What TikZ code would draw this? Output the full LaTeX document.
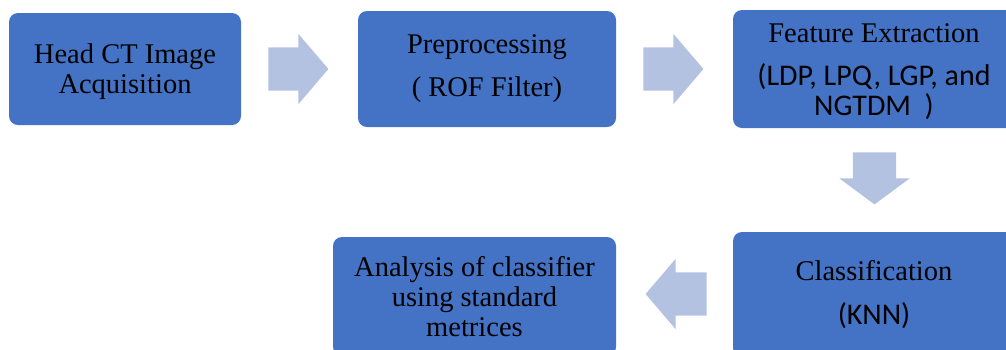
\documentclass[tikz,border=0pt]{standalone}
\usepackage{fontspec}
\setmainfont{Liberation Serif}
\newfontfamily\calibri{Carlito}
\usepackage{tikz}
\usetikzlibrary{shapes.arrows,positioning,calc}
\definecolor{BoxBlue}{HTML}{4472C4}
\definecolor{ArrowBlue}{HTML}{B4C2E2}

\begin{document}
\begin{tikzpicture}[
  x=1pt,y=-1pt,
  stage/.style={rounded corners=9pt,fill=BoxBlue,align=center,text=black,inner sep=0pt,font=\fontsize{28.5}{30}\selectfont},
  flow/.style={single arrow,fill=ArrowBlue,inner xsep=0pt,inner ysep=21.5pt,single arrow head extend=13.5pt,minimum height=60pt,single arrow tip angle=99,anchor=tail}
]
\useasboundingbox (0,0) rectangle (1006,349);
\clip (0,0) rectangle (1006,349);
\node[stage,minimum width=232pt,minimum height=112pt] (acq) at (125,69) {\rule{0pt}{25.5pt}Head CT Image\\Acquisition};
\node[stage,minimum width=258pt,minimum height=116pt] (pre) at (487,69) {Preprocessing\\[13pt]( ROF Filter)};
\node[stage,minimum width=282pt,minimum height=118pt] (feat) at (874,69) {\rule{0pt}{23.5pt}Feature Extraction\\[13pt]{\calibri\fontsize{30}{32}\selectfont (LDP, LPQ, LGP, and}\\{\calibri\fontsize{30}{32}\selectfont NGTDM\ \ )}};
\node[stage,minimum width=282pt,minimum height=125pt] (cls) at (874,294.5) {Classification\\[14pt]{\calibri\fontsize{30}{31}\selectfont (KNN)}};
\node[stage,minimum width=283pt,minimum height=119pt] (ana) at (474.5,296.5) {Analysis of classifier\\using standard\\metrices};
% block arrows between the stages
\node[flow] (a1) at ($(acq.east)+(27,0)$) {};
\node[flow] (a2) at ($(pre.east)+(27,0)$) {};
\node[flow,minimum height=52pt,single arrow tip angle=107,rotate=-90] (a3) at ($(feat.south)+(0.5,24)$) {};
\node[flow,minimum height=61pt,rotate=180] (a4) at ($(cls.west)+(-26,-0.5)$) {};
\end{tikzpicture}
\end{document}
